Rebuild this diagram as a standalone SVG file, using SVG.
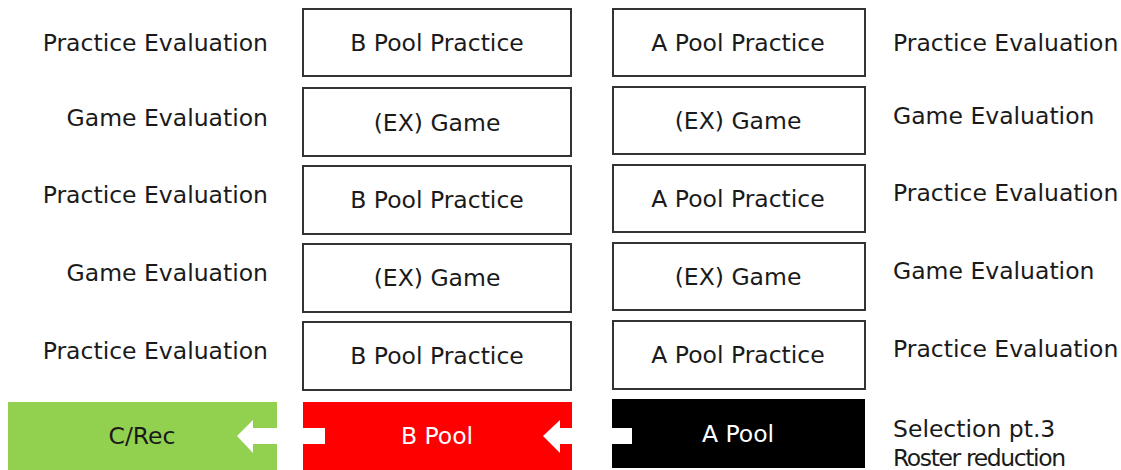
<svg xmlns="http://www.w3.org/2000/svg" width="1121" height="470" viewBox="0 0 1121 470">
<style>
text{font-family:"DejaVu Sans","Open Sans",sans-serif;font-size:23.5px;fill:#1a1a1a;dominant-baseline:central}
.box{fill:#fff;stroke:#333;stroke-width:2}
.c{text-anchor:middle}
.l{text-anchor:end}
.r{text-anchor:start}
.w{fill:#fff}
</style>
<rect width="1121" height="470" fill="#fff"/>
<g id="labels-left">
<text class="l" x="268" y="43">Practice Evaluation</text>
<text class="l" x="268" y="118">Game Evaluation</text>
<text class="l" x="268" y="195">Practice Evaluation</text>
<text class="l" x="268" y="273">Game Evaluation</text>
<text class="l" x="268" y="351">Practice Evaluation</text>
</g>
<g id="labels-right">
<text class="r" x="893" y="43">Practice Evaluation</text>
<text class="r" x="893" y="116">Game Evaluation</text>
<text class="r" x="893" y="193">Practice Evaluation</text>
<text class="r" x="893" y="271">Game Evaluation</text>
<text class="r" x="893" y="349">Practice Evaluation</text>
<text class="r" x="893" y="429">Selection pt.3</text>
<text class="r" x="893" y="458" letter-spacing="-1.4">Roster reduction</text>
</g>
<g id="b1"><rect class="box" x="303" y="9" width="268" height="67"/><text class="c" x="437" y="43">B Pool Practice</text></g>
<g id="b2"><rect class="box" x="303" y="88" width="268" height="68"/><text class="c" x="437" y="123">(EX) Game</text></g>
<g id="b3"><rect class="box" x="303" y="166" width="268" height="68"/><text class="c" x="437" y="200">B Pool Practice</text></g>
<g id="b4"><rect class="box" x="303" y="244" width="268" height="68"/><text class="c" x="437" y="278">(EX) Game</text></g>
<g id="b5"><rect class="box" x="303" y="322" width="268" height="68"/><text class="c" x="437" y="356">B Pool Practice</text></g>
<g id="a1"><rect class="box" x="613" y="9" width="252" height="67"/><text class="c" x="738" y="43">A Pool Practice</text></g>
<g id="a2"><rect class="box" x="613" y="87" width="252" height="67"/><text class="c" x="738" y="121">(EX) Game</text></g>
<g id="a3"><rect class="box" x="613" y="165" width="252" height="67"/><text class="c" x="738" y="199">A Pool Practice</text></g>
<g id="a4"><rect class="box" x="613" y="243" width="252" height="67"/><text class="c" x="738" y="277">(EX) Game</text></g>
<g id="a5"><rect class="box" x="613" y="321" width="252" height="68"/><text class="c" x="738" y="355">A Pool Practice</text></g>
<g id="crec"><rect x="8" y="402" width="269" height="68" fill="#92d050"/><text class="c" x="142" y="436">C/Rec</text></g>
<g id="bpool"><rect x="303" y="402" width="269" height="68" fill="#ff0000"/><text class="c w" x="437" y="436">B Pool</text></g>
<g id="apool"><rect x="612" y="399" width="253" height="69" fill="#000"/><text class="c w" x="738" y="434">A Pool</text></g>
<g id="connectors" fill="#fff">
<polygon points="325,428 253,428 253,420 237,436 253,453 253,444 325,444"/>
<polygon points="632,428 560,428 560,420 543,436 560,453 560,444 632,444"/>
</g>
</svg>
